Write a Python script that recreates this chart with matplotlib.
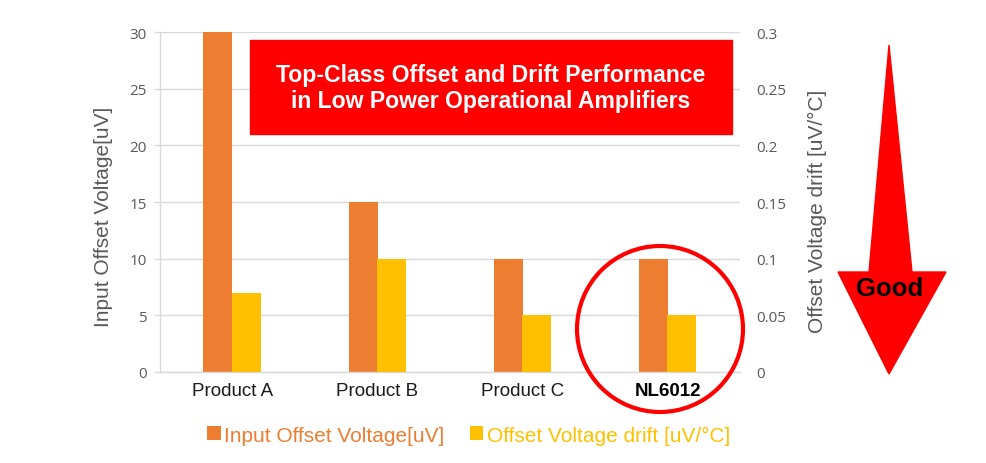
import numpy as np
import matplotlib
matplotlib.use("Agg")
import matplotlib.pyplot as plt
from matplotlib.patches import Circle, Polygon, Rectangle

# Data
products = ["Product A", "Product B", "Product C", "NL6012"]
offset_uv = [30, 15, 10, 10]
drift_uv_c = [0.07, 0.10, 0.05, 0.05]
left_ticks = [0, 5, 10, 15, 20, 25, 30]
right_ticks = [0, 0.05, 0.1, 0.15, 0.2, 0.25, 0.3]
right_tick_labels = ["0", "0.05", "0.1", "0.15", "0.2", "0.25", "0.3"]

orange = "#ED7D31"
yellow = "#FFC000"
red = "#FF0000"
gray_text = "#595959"
grid_gray = "#D9D9D9"

plt.rcParams['font.family'] = ['Liberation Sans', 'DejaVu Sans']

fig = plt.figure(figsize=(9.87, 4.64), dpi=100)
ax = fig.add_axes([160 / 987, 1 - 373 / 464, 580 / 987, 340 / 464])
ax2 = ax.twinx()

x = np.arange(len(products))
w = 0.2
b1 = ax.bar(x - w / 2, offset_uv, w, color=orange, zorder=2, label="Input Offset Voltage[uV]")
b2 = ax2.bar(x + w / 2, drift_uv_c, w, color=yellow, zorder=2, label="Offset Voltage drift [uV/\u00b0C]")

ax.set_xlim(-0.5, 3.5)
ax.set_ylim(0, 30)
ax2.set_ylim(0, 0.3)
ax.set_yticks(left_ticks)
ax2.set_yticks(right_ticks)
ax2.set_yticklabels(right_tick_labels)

ax.set_axisbelow(True)
ax.yaxis.grid(True, color=grid_gray, linewidth=1.0)
for a in (ax, ax2):
    for s in a.spines.values():
        s.set_visible(False)
ax.spines['left'].set_visible(True)
ax.spines['left'].set_color(grid_gray)
ax.spines['left'].set_linewidth(1.0)
ax.spines['bottom'].set_visible(True)
ax.spines['bottom'].set_color(grid_gray)
ax.spines['bottom'].set_linewidth(1.0)

ax.tick_params(axis='y', length=4, width=1.0, color=grid_gray, pad=5.5,
               labelcolor=gray_text, labelsize=11)
ax2.tick_params(axis='y', length=0, pad=12, labelcolor=gray_text, labelsize=11)
for lab in ax.get_yticklabels() + ax2.get_yticklabels():
    lab.set_fontfamily('Open Sans')

ax.set_xticks(x)
ax.set_xticklabels(products, fontsize=13.5, color="#1a1a1a")
ax.get_xticklabels()[-1].set_fontweight('bold')
ax.get_xticklabels()[-1].set_color('black')
ax.tick_params(axis='x', length=0, pad=7)

ax.set_ylabel("Input Offset Voltage[uV]", fontsize=15, color=gray_text, va='center')
ax.yaxis.set_label_coords(-0.097, 0.459)
ax2.set_ylabel("Offset Voltage drift [uV/\u00b0C]", fontsize=15, color=gray_text, va='center')
ax2.yaxis.set_label_coords(1.133, 0.474)

# Legend
leg = fig.legend(handles=[b1, b2], loc='center', bbox_to_anchor=(0.4747, 1 - 436 / 464),
                 ncol=2, frameon=False, fontsize=15, handlelength=0.67, handleheight=0.67,
                 handletextpad=0.15, columnspacing=1.2, borderpad=0)
for t, c in zip(leg.get_texts(), [orange, yellow]):
    t.set_color(c)

# Title banner
tr = fig.dpi_scale_trans
H = 4.64
fig.add_artist(Rectangle((2.50, H - 1.35), 4.82, 0.94, transform=tr, color=red, zorder=5))
fig.text(4.91 / 9.87, (H - 0.885) / H,
         "Top-Class Offset and Drift Performance\nin Low Power Operational Amplifiers",
         ha='center', va='center', color='white', fontsize=16.6, fontweight='bold',
         linespacing=1.2, zorder=6)

# Circle around NL6012
fig.add_artist(Circle((6.60, H - 3.30), 0.83, transform=tr, fill=False,
                      edgecolor=red, linewidth=3, zorder=6))

# "Good" arrow
arrow_pts = [(8.89, H - 0.46), (9.12, H - 2.73), (9.46, H - 2.73), (8.89, H - 3.75),
             (8.38, H - 2.73), (8.69, H - 2.73)]
fig.add_artist(Polygon(arrow_pts, closed=True, transform=tr, color=red, zorder=5))
fig.text(8.90 / 9.87, (H - 2.89) / H, "Good", ha='center', va='center',
         fontsize=18.5, fontweight='bold', color='black', zorder=6)

fig.savefig("out.png", dpi=100)
